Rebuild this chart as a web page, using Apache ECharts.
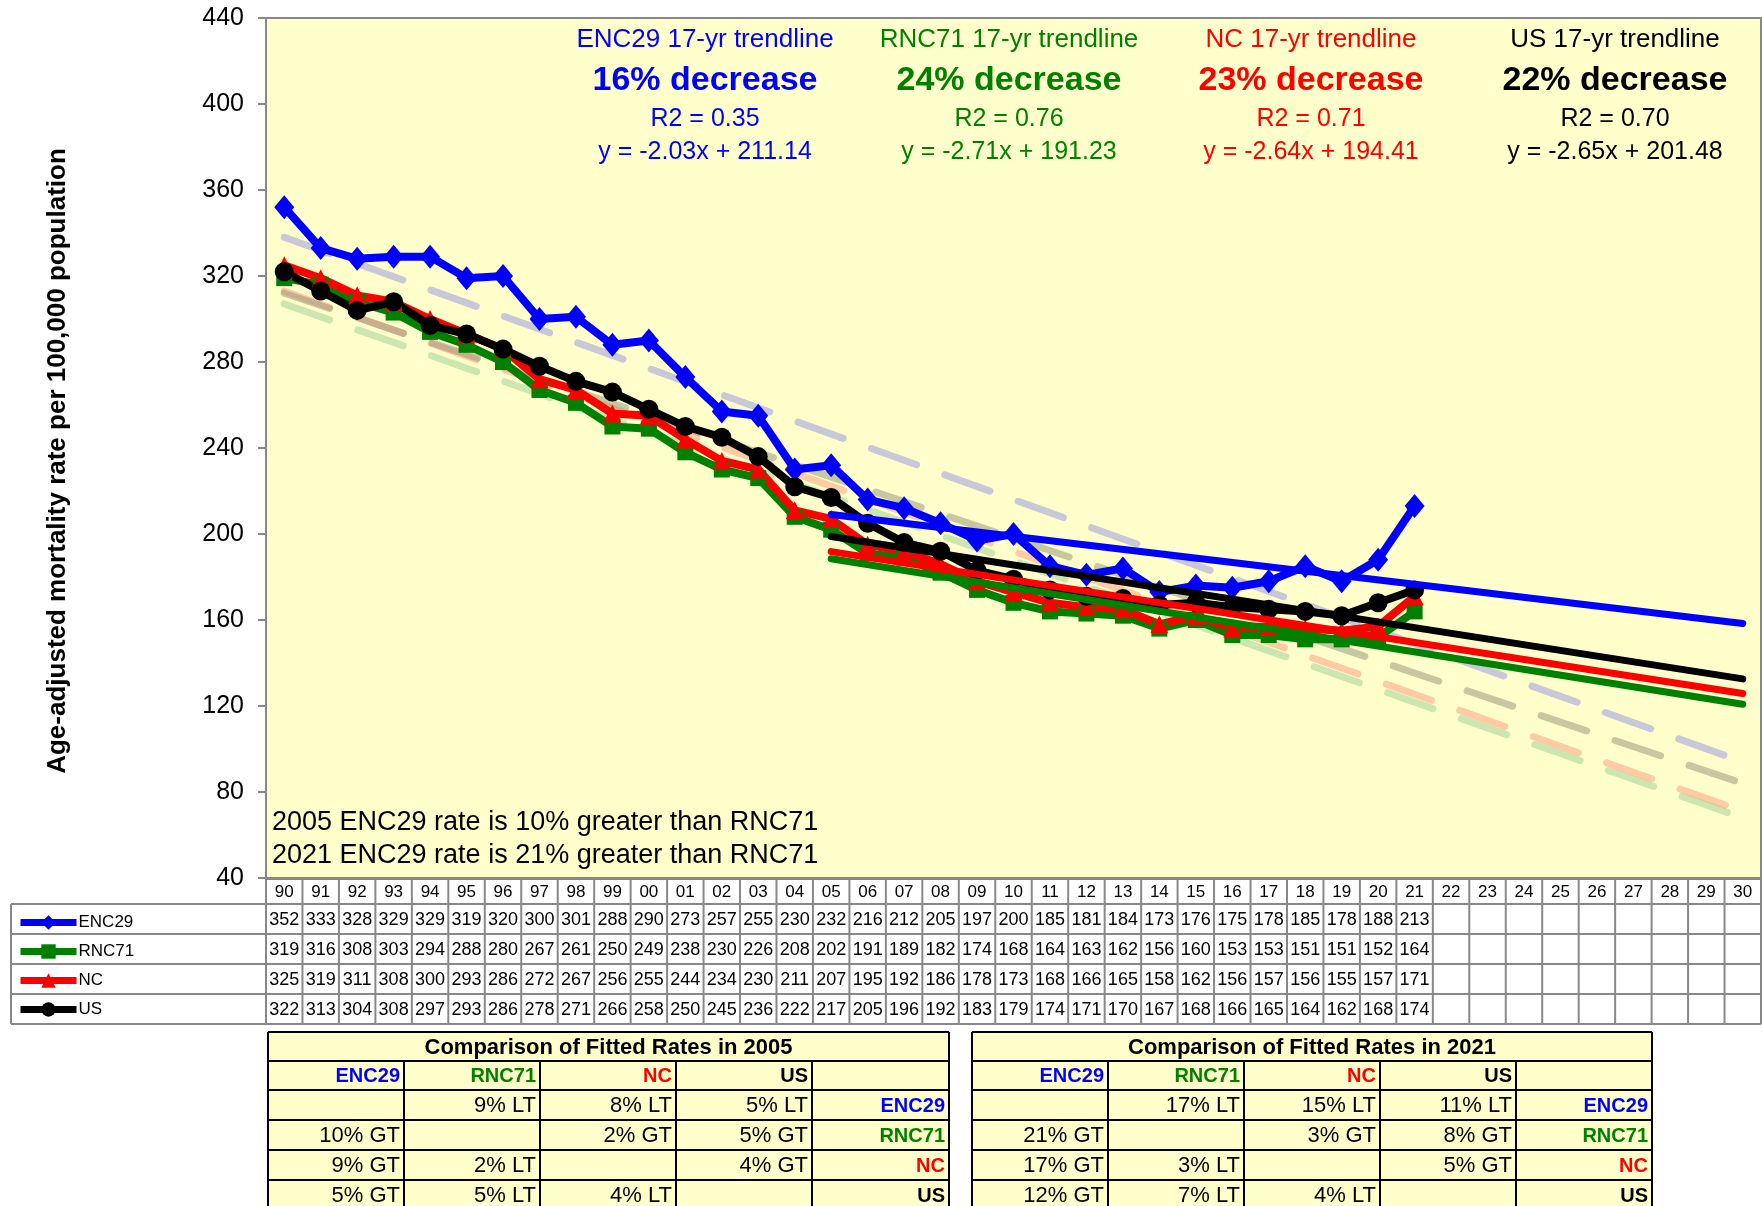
<!DOCTYPE html>
<html>
<head>
<meta charset="utf-8">
<script src="https://cdn.jsdelivr.net/npm/echarts@6/dist/echarts.min.js"></script>
<style>
html, body {margin: 0; padding: 0; background: #fff;}
#chart {width: 1762px; height: 1206px;}
</style>
</head>
<body>
<div id="chart"></div>
<script>
// categories 1990..2030
var years = ['90','91','92','93','94','95','96','97','98','99','00','01','02','03','04','05','06','07','08','09',
    '10','11','12','13','14','15','16','17','18','19','20','21','22','23','24','25','26','27','28','29','30'];

// age-adjusted rates 1990..2021
var enc29 = [352,333,328,329,329,319,320,300,301,288,290,273,257,255,230,232,216,212,205,197,200,185,181,184,173,176,175,178,185,178,188,213];
var rnc71 = [319,316,308,303,294,288,280,267,261,250,249,238,230,226,208,202,191,189,182,174,168,164,163,162,156,160,153,153,151,151,152,164];
var nc    = [325,319,311,308,300,293,286,272,267,256,255,244,234,230,211,207,195,192,186,178,173,168,166,165,158,162,156,157,156,155,157,171];
var us    = [322,313,304,308,297,293,286,278,271,266,258,250,245,236,222,217,205,196,192,183,179,174,171,170,167,168,166,165,164,162,168,174];

var names = ['ENC29', 'RNC71', 'NC', 'US'];
var colors = ['#0000FF', '#008000', '#FF0000', '#000000'];

// 17-yr trendlines (2005 -> 2030)
var trend17Start = [209.1, 188.5, 191.8, 198.8];
var trend17End = [158.4, 120.8, 125.8, 132.6];
// long-term dashed trendlines (1990 -> 2030)
var trendAllStart = [338, 307, 313, 312];
var trendAllEnd = [94, 68, 71, 84];
var dashColors = ['rgba(145,145,228,0.5)', 'rgba(153,205,148,0.5)', 'rgba(255,151,124,0.5)', 'rgba(145,145,116,0.5)'];

var trendTitles = ['ENC29 17-yr trendline', 'RNC71 17-yr trendline', 'NC 17-yr trendline', 'US 17-yr trendline'];
var decreaseText = ['16% decrease', '24% decrease', '23% decrease', '22% decrease'];
var r2Text = ['R2 = 0.35', 'R2 = 0.76', 'R2 = 0.71', 'R2 = 0.70'];
var eqText = ['y = -2.03x + 211.14', 'y = -2.71x + 191.23', 'y = -2.64x + 194.41', 'y = -2.65x + 201.48'];
var noteText = ['2005 ENC29 rate is 10% greater than RNC71', '2021 ENC29 rate is 21% greater than RNC71'];

var table2005 = [
    ['', '9% LT', '8% LT', '5% LT', 'ENC29'],
    ['10% GT', '', '2% GT', '5% GT', 'RNC71'],
    ['9% GT', '2% LT', '', '4% GT', 'NC'],
    ['5% GT', '5% LT', '4% LT', '', 'US']
];
var table2021 = [
    ['', '17% LT', '15% LT', '11% LT', 'ENC29'],
    ['21% GT', '', '3% GT', '8% GT', 'RNC71'],
    ['17% GT', '3% LT', '', '5% GT', 'NC'],
    ['12% GT', '7% LT', '4% LT', '', 'US']
];

var FONT = 'Liberation Sans, Arial, sans-serif';
var chart = echarts.init(document.getElementById('chart'));

var symbols = ['diamond', 'rect', 'triangle', 'circle'];
var symbolSizes = [[20, 24], [16, 16], [18, 18], 19];

var series = [];
// dashed long-term trendlines
names.forEach(function (n, i) {
    series.push({
        name: n + ' trend all', type: 'line', z: 2, symbol: 'none', silent: true,
        data: [[0, trendAllStart[i]], [years.length - 1, trendAllEnd[i]]],
        lineStyle: {color: dashColors[i], width: 7, type: [48, 30], cap: 'round'}
    });
});
// actual data
[enc29, rnc71, nc, us].forEach(function (vals, i) {
    series.push({
        name: names[i], type: 'line', z: 5, data: vals,
        symbol: symbols[i], symbolSize: symbolSizes[i], showSymbol: true,
        lineStyle: {color: colors[i], width: 8},
        itemStyle: {color: colors[i]}
    });
});
// solid 17-yr trendlines
names.forEach(function (n, i) {
    series.push({
        name: n + ' trend 17', type: 'line', z: 6, symbol: 'none', silent: true,
        data: [[15, trend17Start[i]], [years.length - 1, trend17End[i]]],
        lineStyle: {color: colors[i], width: 7, cap: 'round'}
    });
});

chart.setOption({
    animation: false,
    backgroundColor: '#fff',
    textStyle: {fontFamily: FONT},
    grid: {
        left: 266, right: 1, top: 18, bottom: 328,
        show: true, backgroundColor: '#FFFFCC', borderColor: '#888', borderWidth: 2
    },
    legend: {
        data: names, orient: 'vertical', left: 12, top: 909,
        itemWidth: 56, itemHeight: 18, itemGap: 12,
        lineStyle: {width: 7},
        textStyle: {fontSize: 17, color: '#000', fontFamily: FONT, padding: [0, 0, 0, -3]}
    },
    xAxis: {
        type: 'category', data: years, boundaryGap: true,
        axisLine: {lineStyle: {color: '#888', width: 2}},
        axisTick: {show: false}, axisLabel: {show: false}
    },
    yAxis: {
        type: 'value', min: 40, max: 440, interval: 40,
        axisLine: {show: true, lineStyle: {color: '#888', width: 2}},
        axisTick: {show: true, length: 8, lineStyle: {color: '#888', width: 2}},
        axisLabel: {fontSize: 25, color: '#000', margin: 22, fontFamily: FONT},
        splitLine: {show: false}
    },
    series: series
});

// ---- texts and tables drawn as graphics ----
var els = [];
function txt(x, y, s, opt) {
    opt = opt || {};
    els.push({
        type: 'text', x: x, y: y, z: 50, rotation: opt.rotation || 0,
        style: {
            text: s, fill: opt.color || '#000', font: (opt.weight || 'normal') + ' ' + (opt.size || 16) + 'px ' + FONT,
            align: opt.align || 'center', verticalAlign: 'middle'
        }
    });
}
function line(x1, y1, x2, y2, color, w) {
    els.push({type: 'line', z: 40, shape: {x1: x1, y1: y1, x2: x2, y2: y2}, style: {stroke: color || '#888', lineWidth: w || 2}});
}
function rect(x, y, w, h, fill) {
    els.push({type: 'rect', z: 30, shape: {x: x, y: y, width: w, height: h}, style: {fill: fill}});
}

// y-axis title
txt(58, 461, 'Age-adjusted mortality rate per 100,000 population', {rotation: Math.PI / 2, weight: 'bold', size: 26});

// trendline notes
var noteX = [705, 1009, 1311, 1615];
names.forEach(function (n, i) {
    txt(noteX[i], 40, trendTitles[i], {color: colors[i], size: 26});
    txt(noteX[i], 81, decreaseText[i], {color: colors[i], size: 34, weight: 'bold'});
    txt(noteX[i], 119, r2Text[i], {color: colors[i], size: 25});
    txt(noteX[i], 152, eqText[i], {color: colors[i], size: 25});
});
txt(272, 823, noteText[0], {align: 'left', size: 27});
txt(272, 856, noteText[1], {align: 'left', size: 27});

// data table under the plot
var cx0 = chart.convertToPixel({xAxisIndex: 0}, 0);
var colW = chart.convertToPixel({xAxisIndex: 0}, 1) - cx0;
var tLeft = cx0 - colW / 2;
var tRight = tLeft + colW * years.length;
var rowY = [879, 904, 934, 964, 994, 1024];
rect(tLeft, rowY[0], tRight - tLeft, rowY[5] - rowY[0], '#fff');
line(tLeft, rowY[0], tRight, rowY[0]);
for (var r = 1; r < rowY.length; r++) line(11, rowY[r], tRight, rowY[r]);
line(11, rowY[1], 11, rowY[5]);
for (var k = 0; k <= years.length; k++) line(tLeft + k * colW, rowY[0], tLeft + k * colW, rowY[5]);
years.forEach(function (y, i) {
    var cx = cx0 + i * colW;
    txt(cx, 892, y, {size: 17});
    [enc29, rnc71, nc, us].forEach(function (vals, j) {
        if (i < vals.length) txt(cx, (rowY[j + 1] + rowY[j + 2]) / 2 + 1, String(vals[i]), {size: 18});
    });
});

// comparison tables
function compTable(edges, title, rows) {
    var ry = [1032, 1061, 1090, 1120, 1150, 1180, 1210];
    var x0 = edges[0], x1 = edges[edges.length - 1];
    rect(x0, ry[0], x1 - x0, ry[6] - ry[0], '#FFFFCC');
    ry.forEach(function (y) { line(x0, y, x1, y, '#000', 2); });
    line(x0, ry[0], x0, ry[6], '#000', 2);
    line(x1, ry[0], x1, ry[6], '#000', 2);
    for (var c = 1; c < edges.length - 1; c++) line(edges[c], ry[1], edges[c], ry[6], '#000', 2);
    txt((x0 + x1) / 2, (ry[0] + ry[1]) / 2 + 1, title, {weight: 'bold', size: 22});
    names.forEach(function (n, i) {
        txt(edges[i + 1] - 4, (ry[1] + ry[2]) / 2 + 1, n, {weight: 'bold', size: 20, color: colors[i], align: 'right'});
    });
    rows.forEach(function (row, j) {
        var cy = (ry[j + 2] + ry[j + 3]) / 2 + 1;
        row.forEach(function (s, c) {
            if (!s) return;
            if (c === 4) txt(edges[5] - 4, cy, s, {weight: 'bold', size: 20, color: colors[j], align: 'right'});
            else txt(edges[c + 1] - 4, cy, s, {size: 22, align: 'right'});
        });
    });
}
compTable([268, 404, 540, 676, 812, 949], 'Comparison of Fitted Rates in 2005', table2005);
compTable([972, 1108, 1244, 1380, 1516, 1652], 'Comparison of Fitted Rates in 2021', table2021);

chart.setOption({graphic: {elements: els}});
</script>
</body>
</html>
